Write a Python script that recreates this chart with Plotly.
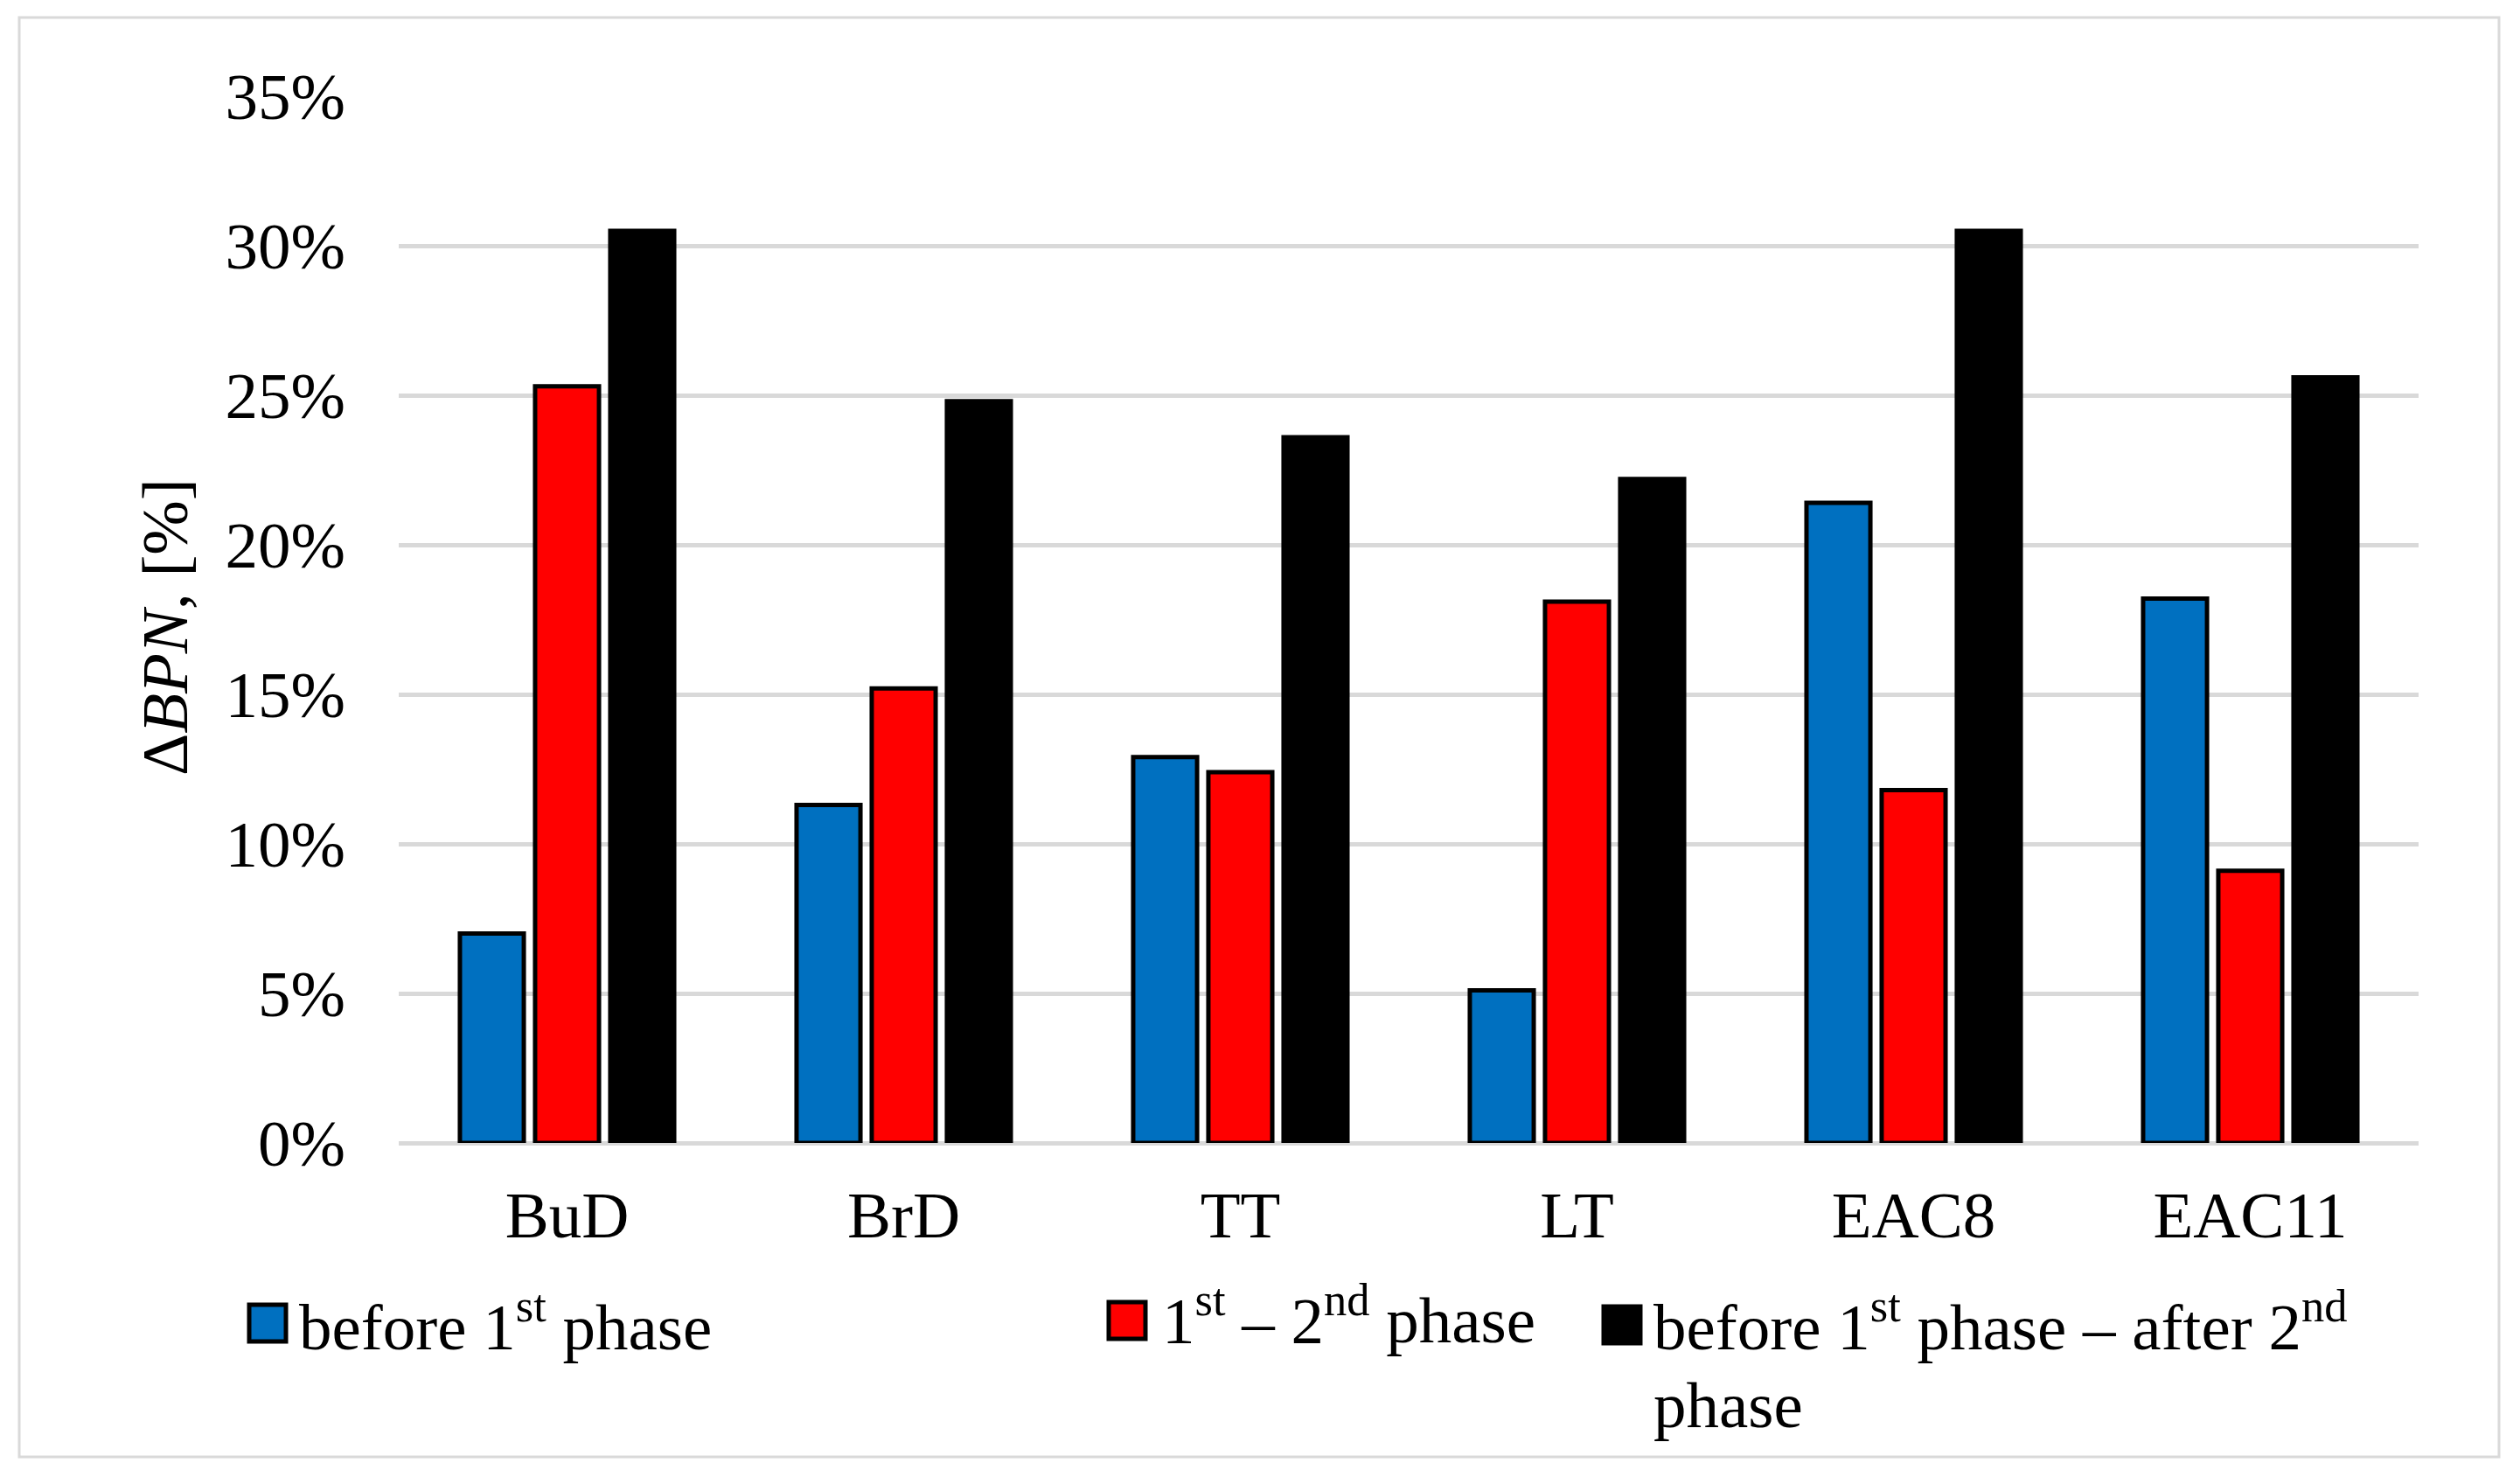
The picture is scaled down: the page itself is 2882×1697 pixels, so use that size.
import plotly.graph_objects as go

categories = ["BuD", "BrD", "TT", "LT", "EAC8", "EAC11"]
before_1st = [7.0, 11.3, 12.9, 5.1, 21.4, 18.2]
first_second = [25.3, 15.2, 12.4, 18.1, 11.8, 9.1]
before_after = [30.5, 24.8, 23.6, 22.2, 30.5, 25.6]
y_ticks = [0, 5, 10, 15, 20, 25, 30, 35]
y_tick_labels = [f"{v}%" for v in y_ticks]
series_names = ["before 1<sup>st</sup> phase",
                "1<sup>st</sup> – 2<sup>nd</sup> phase",
                "before 1<sup>st</sup> phase – after 2<sup>nd</sup>"]
colors = ["#0070C0", "#FF0000", "#000000"]

# page body margin of 8px is compensated by shrinking the figure
OFF = 8
W, H = 2882 - 2 * OFF, 1697 - 2 * OFF
ML, MR, MT, MB = 456 - OFF, 116 - OFF, 110 - OFF, 390 - OFF
FONT = "Liberation Serif, Times New Roman, serif"
FS = 75

fig = go.Figure()
for name, vals, col in zip(series_names, [before_1st, first_second, before_after], colors):
    fig.add_trace(go.Bar(x=categories, y=vals, name=name,
                         marker=dict(color=col, line=dict(color="#000000", width=5)),
                         showlegend=False))

pw = W - ML - MR
ph = H - MT - MB

def px(x):
    return (x - OFF - ML) / pw

def py(y):
    return (H - MB - (y - OFF)) / ph

shapes = []
annotations = []
# outer border
shapes.append(dict(type="rect", xref="paper", yref="paper",
                   x0=px(22), x1=px(2858), y0=py(1666), y1=py(20),
                   line=dict(color="#D9D9D9", width=3), layer="below"))
# legend entries (square left x, square top y, square size, text x, text center y)
leg = [(285, 1492, 42, 340, 1509), (1268, 1489, 42, 1327, 1502), (1834, 1494, 42, 1889, 1509)]
for (sx, sy, ss, tx, ty), name, col in zip(leg, series_names, colors):
    shapes.append(dict(type="rect", xref="paper", yref="paper",
                       x0=px(sx), x1=px(sx + ss), y0=py(sy + ss), y1=py(sy),
                       fillcolor=col, line=dict(color="#000000", width=5)))
    annotations.append(dict(xref="paper", yref="paper", x=px(tx), y=py(ty - 47),
                            xanchor="left", yanchor="top", align="left",
                            text=name, showarrow=False,
                            font=dict(family=FONT, size=FS, color="#000000")))
# wrapped second line of third legend entry
annotations.append(dict(xref="paper", yref="paper", x=px(1889), y=py(1610 - 47),
                        xanchor="left", yanchor="top", align="left",
                        text="phase", showarrow=False,
                        font=dict(family=FONT, size=FS, color="#000000")))
# y-axis title
annotations.append(dict(xref="paper", yref="paper", x=px(188), y=py(717),
                        xanchor="center", yanchor="middle", textangle=-90,
                        text="Δ<i>BPN</i>, [%]", showarrow=False,
                        font=dict(family=FONT, size=FS, color="#000000")))

fig.update_layout(
    width=W, height=H,
    margin=dict(l=ML, r=MR, t=MT, b=MB),
    paper_bgcolor="#FFFFFF", plot_bgcolor="#FFFFFF",
    barmode="group", bargap=0.33, bargroupgap=0.15,
    font=dict(family=FONT, size=FS, color="#000000"),
    shapes=shapes, annotations=annotations,
)
fig.update_xaxes(showgrid=False, showline=False, ticks="", ticklabelstandoff=32,
                 tickfont=dict(family=FONT, size=FS, color="#000000"))
fig.update_yaxes(range=[0, 35], tickvals=y_ticks, ticktext=y_tick_labels,
                 showgrid=True, gridcolor="#D9D9D9", gridwidth=5,
                 zeroline=True, zerolinecolor="#D9D9D9", zerolinewidth=5,
                 showline=False, ticks="", ticklabelstandoff=60,
                 tickfont=dict(family=FONT, size=FS, color="#000000"))

fig.write_html("out.html")
